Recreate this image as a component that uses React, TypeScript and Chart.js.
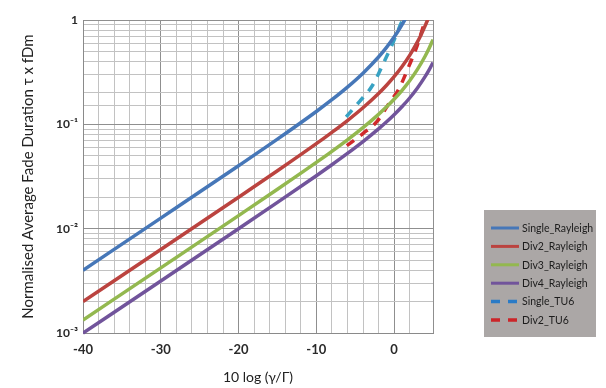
import React, { useEffect, useRef } from "react";
import { Chart, registerables } from "chart.js";

Chart.register(...registerables);

// ---- data ----
const xSingleRay = [-40, -30, -20, -15, -10, -8, -6, -4, -2, -1, 0, 0.5, 1, 1.3, 1.5];
const ySingleRay = [0.00399, 0.01262, 0.0401, 0.0721, 0.1327, 0.1721, 0.2273, 0.3092, 0.4417, 0.543, 0.6855, 0.7801, 0.8967, 0.9801, 1.0426];

const xDiv2Ray = [-40, -30, -20, -15, -10, -8, -6, -4, -2, -1, 0, 1, 2, 3, 3.5, 4, 4.3, 4.5];
const yDiv2Ray = [0.002, 0.00631, 0.02003, 0.03586, 0.06524, 0.08381, 0.1088, 0.1443, 0.1977, 0.2359, 0.2865, 0.3566, 0.4587, 0.6168, 0.7316, 0.8835, 0.9994, 1.0901];

const xDiv3Ray = [-40, -30, -20, -15, -10, -8, -6, -4, -2, -1, 0, 1, 2, 3, 4, 4.5, 5];
const yDiv3Ray = [0.00133, 0.004206, 0.013332, 0.023836, 0.043126, 0.055107, 0.071054, 0.092968, 0.12464, 0.14635, 0.17416, 0.21093, 0.26194, 0.33586, 0.45174, 0.53593, 0.64892];

const xDiv4Ray = [-40, -30, -20, -15, -10, -8, -6, -4, -2, -1, 0, 1, 2, 3, 4, 4.5, 5];
const yDiv4Ray = [0.000997, 0.003155, 0.009994, 0.017849, 0.032181, 0.040998, 0.052609, 0.068294, 0.090377, 0.10512, 0.12355, 0.1472, 0.1788, 0.2228, 0.2878, 0.3328, 0.3913];

const xSingleTU6 = [-6.17, -4.37, -2.83, -1.29, 0, 1.03, 1.1];
const ySingleTU6 = [0.118, 0.168, 0.233, 0.396, 0.643, 0.978, 1.0];

const xDiv2TU6 = [-6.08, -3.95, -2.22, -0.51, 0.55, 2.06, 2.92, 3.98, 4.1];
const yDiv2TU6 = [0.0625, 0.0822, 0.106, 0.165, 0.214, 0.385, 0.555, 0.963, 1.0];

const seriesLabels = ["Single_Rayleigh", "Div2_Rayleigh", "Div3_Rayleigh", "Div4_Rayleigh", "Single_TU6", "Div2_TU6"];
const xTickLabels = ["-40", "-30", "-20", "-10", "0"];
const yTickLabels = ["10⁻³", "10⁻²", "10⁻¹", "1"];

const xTitle = "10 log (γ/Γ)";
const yTitle = "Normalised Average Fade Duration τ x fDm";

// ---- styles ----
const lineColors = ["#4677b8", "#bb433f", "#93b84f", "#71549b", "#38a2c3", "#d02a2b"];
const legendColors = ["#4677b8", "#bb433f", "#93b84f", "#71549b", "#2a7bc6", "#cc2529"];
const dashed = [false, false, false, false, true, true];

const FONT = "Lato, 'Open Sans', sans-serif";

function pts(xs: number[], ys: number[]) {
  return xs.map((x, i) => ({ x, y: ys[i] }));
}

const legendPlugin = {
  id: "boxLegend",
  afterDraw(chart: any) {
    const ctx = chart.ctx as CanvasRenderingContext2D;
    ctx.save();
    ctx.fillStyle = "#aba7a6";
    ctx.fillRect(484, 210, 112, 127);
    seriesLabels.forEach((label, i) => {
      const y = 228 + 18.4 * i;
      ctx.beginPath();
      ctx.strokeStyle = legendColors[i];
      ctx.lineWidth = dashed[i] ? 3.5 : 3;
      ctx.setLineDash(dashed[i] ? [9, 8] : []);
      ctx.lineCap = "butt";
      ctx.moveTo(491, y);
      ctx.lineTo(519, y);
      ctx.stroke();
      ctx.setLineDash([]);
      ctx.fillStyle = "#1c1c1c";
      ctx.font = "10.5px " + FONT;
      ctx.textAlign = "left";
      ctx.textBaseline = "middle";
      ctx.fillText(label, 522, y + 0.5);
    });
    ctx.restore();
  },
};

function isDecade(v: number) {
  const l = Math.log10(v);
  return Math.abs(l - Math.round(l)) < 1e-6;
}

export default function App() {
  const ref = useRef<HTMLCanvasElement>(null);
  useEffect(() => {
    document.body.style.margin = "0";
    const canvas = ref.current!;
    const series = [
      pts(xSingleRay, ySingleRay),
      pts(xDiv2Ray, yDiv2Ray),
      pts(xDiv3Ray, yDiv3Ray),
      pts(xDiv4Ray, yDiv4Ray),
      pts(xSingleTU6, ySingleTU6),
      pts(xDiv2TU6, yDiv2TU6),
    ];
    const chart = new Chart(canvas, {
      type: "line",
      data: {
        datasets: series.map((d, i) => ({
          label: seriesLabels[i],
          data: d,
          borderColor: lineColors[i],
          backgroundColor: lineColors[i],
          borderWidth: 3.5,
          borderDash: dashed[i] ? [9, 8] : [],
          pointRadius: 0,
          pointHoverRadius: 0,
          fill: false,
          cubicInterpolationMode: "monotone" as const,
          clip: { left: 0, top: 0, right: 0, bottom: 3 } as any,
        })),
      },
      options: {
        responsive: false,
        animation: false,
        devicePixelRatio: 1,
        layout: { padding: { left: 0, right: 173, top: 20, bottom: 0 } },
        plugins: { legend: { display: false }, tooltip: { enabled: false } },
        scales: {
          x: {
            type: "linear",
            min: -40,
            max: 5,
            afterFit: (s: any) => {
              s.height = 55;
            },
            ticks: {
              stepSize: 2,
              autoSkip: false,
              maxRotation: 0,
              padding: 9,
              color: "#2a2a2a",
              font: { family: FONT, size: 13, weight: "bold" },
              callback: (v: any) => {
                const n = Number(v);
                const idx = xTickLabels.indexOf(String(n));
                return n % 10 === 0 && idx >= 0 ? xTickLabels[idx] : "";
              },
            },
            grid: {
              drawTicks: false,
              color: (c: any) => {
                const v = c.tick ? c.tick.value : 0;
                return v % 10 === 0 || v === 5 ? "#8f8f8f" : "#c2c2c2";
              },
              lineWidth: 1,
            },
            border: { display: true, color: "#8a8a8a" },
            title: {
              display: true,
              text: xTitle,
              color: "#222",
              font: { family: FONT, size: 14 },
              padding: { top: 0, bottom: 2 },
            },
          },
          y: {
            type: "logarithmic",
            min: 0.001,
            max: 1,
            afterFit: (s: any) => {
              s.width = 83;
            },
            ticks: {
              autoSkip: false,
              padding: 5,
              color: "#2a2a2a",
              font: { family: FONT, size: 12, weight: "bold" },
              callback: (v: any) => {
                const n = Number(v);
                if (!isDecade(n)) return "";
                const e = Math.round(Math.log10(n));
                return yTickLabels[e + 3];
              },
            },
            grid: {
              drawTicks: false,
              color: (c: any) => {
                const v = c.tick ? c.tick.value : 0;
                return isDecade(v) ? "#8f8f8f" : "#c2c2c2";
              },
              lineWidth: 1,
            },
            border: { display: true, color: "#8a8a8a" },
            title: {
              display: true,
              text: yTitle,
              color: "#222",
              font: { family: FONT, size: 15 },
              padding: { top: 19, bottom: 0 },
            },
          },
        },
      },
      plugins: [legendPlugin],
    } as any);
    return () => chart.destroy();
  }, []);
  return (
    <div style={{ position: "relative", width: 606, height: 388, background: "#fff" }}>
      <canvas ref={ref} width={606} height={388} style={{ display: "block", width: 606, height: 388 }} />
    </div>
  );
}
